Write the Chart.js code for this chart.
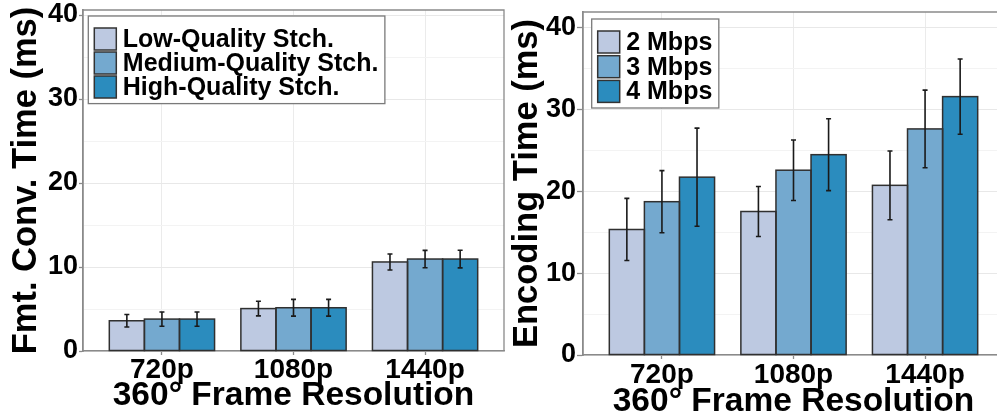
<!DOCTYPE html>
<html>
<head>
<meta charset="utf-8">
<script src="https://cdn.jsdelivr.net/npm/chart.js@4.4.0/dist/chart.umd.min.js"></script>
<style>
  html, body { margin: 0; padding: 0; background: #fff; overflow: hidden; width: 997px; height: 417px; }
  .panel { position: absolute; top: 0; width: 505px; height: 417px; }
  #left { left: 0; }
  #right { left: 500px; }
</style>
</head>
<body>
<div class="panel" id="left"><canvas id="fmtChart"></canvas></div>
<div class="panel" id="right"><canvas id="encChart"></canvas></div>
<script>
const categories = ['720p', '1080p', '1440p'];

// left panel - format conversion time (ms)
const stitchLabels = ['Low-Quality Stch.', 'Medium-Quality Stch.', 'High-Quality Stch.'];
const fmtLow = [3.6, 5.05, 10.6];
const fmtMedium = [3.8, 5.15, 10.95];
const fmtHigh = [3.8, 5.15, 10.95];
const fmtLowErr = [0.75, 0.87, 0.95];
const fmtMediumErr = [0.85, 1.0, 1.03];
const fmtHighErr = [0.85, 1.0, 1.05];

// right panel - encoding time (ms)
const bitrateLabels = ['2 Mbps', '3 Mbps', '4 Mbps'];
const enc2 = [15.35, 17.55, 20.75];
const enc3 = [18.75, 22.6, 27.65];
const enc4 = [21.75, 24.5, 31.6];
const enc2Err = [3.8, 3.05, 4.2];
const enc3Err = [3.8, 3.7, 4.75];
const enc4Err = [6.0, 4.4, 4.6];

const colours = ['#bdc9e1', '#74a9cf', '#2b8cbe'];
const FONT = "'Liberation Sans', Arial, sans-serif";
const axisGrey = '#8a8a8a';

// bar outlines centred on the bar edges (chart.js insets its borders, which leaves gaps between dodged bars)
// then mean +/- sd whiskers on top
const barOverlay = {
  id: 'barOverlay',
  afterDatasetsDraw(chart) {
    const ctx = chart.ctx;
    const y = chart.scales.y;
    ctx.save();
    ctx.strokeStyle = '#303030';
    ctx.lineWidth = 1.5;
    chart.data.datasets.forEach((ds, i) => {
      chart.getDatasetMeta(i).data.forEach(bar => {
        const { x, y: top, base, width } = bar.getProps(['x', 'y', 'base', 'width'], true);
        ctx.strokeRect(x - width / 2, top, width, base - top);
      });
    });
    ctx.strokeStyle = '#1a1a1a';
    ctx.lineWidth = 1.6;
    chart.data.datasets.forEach((ds, i) => {
      chart.getDatasetMeta(i).data.forEach((bar, j) => {
        const v = ds.data[j].y, e = ds.errors[j];
        const top = y.getPixelForValue(v + e);
        const bot = y.getPixelForValue(v - e);
        ctx.beginPath();
        ctx.moveTo(bar.x, top); ctx.lineTo(bar.x, bot);
        ctx.moveTo(bar.x - 2.5, top); ctx.lineTo(bar.x + 2.5, top);
        ctx.moveTo(bar.x - 2.5, bot); ctx.lineTo(bar.x + 2.5, bot);
        ctx.stroke();
      });
    });
    ctx.restore();
  }
};

// top + right edges of the panel (left/bottom come from the axis borders)
const panelFrame = {
  id: 'panelFrame',
  beforeDatasetsDraw(chart) {
    const { ctx, chartArea: a } = chart;
    ctx.save();
    ctx.strokeStyle = axisGrey;
    ctx.lineWidth = 1.3;
    ctx.beginPath();
    ctx.moveTo(a.left, a.top); ctx.lineTo(a.right, a.top); ctx.lineTo(a.right, a.bottom);
    ctx.stroke();
    ctx.restore();
  }
};

// ggplot style boxed legend in the top left corner of the plot
const boxLegend = {
  id: 'boxLegend',
  afterDraw(chart, args, o) {
    const { ctx, chartArea: a } = chart;
    const sets = chart.data.datasets;
    const sw = 22;
    ctx.save();
    ctx.font = `bold ${o.size}px ${FONT}`;
    const textW = Math.max(...sets.map(d => ctx.measureText(d.label).width));
    const x = a.left + o.dx, y = a.top + o.dy;
    const w = 6 + sw + 6.5 + textW + 6.5;
    const h = 12 + o.pitch * (sets.length - 1) + sw + 5.6;
    ctx.fillStyle = '#fff';
    ctx.fillRect(x, y, w, h);
    ctx.strokeStyle = '#7a7a7a';
    ctx.lineWidth = 1.3;
    ctx.strokeRect(x, y, w, h);
    sets.forEach((d, i) => {
      const ry = y + 12 + i * o.pitch;
      ctx.fillStyle = d.backgroundColor;
      ctx.fillRect(x + 6, ry, sw, sw);
      ctx.strokeStyle = '#333';
      ctx.lineWidth = 1.5;
      ctx.strokeRect(x + 6, ry, sw, sw);
      ctx.fillStyle = '#000';
      ctx.textBaseline = 'middle';
      ctx.fillText(d.label, x + 6 + sw + 6.5, ry + sw / 2 + 1);
    });
    ctx.restore();
  }
};

function makeChart(canvasId, labels, series, errors, opt) {
  const datasets = series.map((vals, i) => ({
    label: labels[i],
    data: vals.map((v, j) => ({ x: j + 1, y: v })),
    errors: errors[i],
    backgroundColor: colours[i],
    borderWidth: 0,
    inflateAmount: 0,
    categoryPercentage: 0.8,
    barPercentage: 1.0
  }));

  return new Chart(document.getElementById(canvasId), {
    type: 'bar',
    data: { datasets },
    plugins: [panelFrame, barOverlay, boxLegend],
    options: {
      responsive: true,
      maintainAspectRatio: false,
      animation: false,
      layout: { padding: { top: opt.padTop, right: 1, left: 0, bottom: 0 } },
      plugins: {
        legend: { display: false },
        tooltip: { enabled: false },
        boxLegend: { dx: opt.legendDx, dy: opt.legendDy, pitch: opt.pitch, size: 25 }
      },
      scales: {
        x: {
          type: 'linear',
          min: 0.4,
          max: 3.6,
          offset: false,
          afterBuildTicks: s => { s.ticks = categories.map((c, i) => ({ value: i + 1 })); },
          afterFit: s => { s.height = opt.xHeight; s.paddingLeft = 0; s.paddingRight = 0; },
          grid: { offset: false, color: '#ebebeb', tickColor: axisGrey, tickLength: 4, tickWidth: 1.3 },
          border: { color: axisGrey, width: 1.5 },
          ticks: {
            padding: opt.xTickPad,
            color: '#000',
            font: { family: FONT, size: 28, weight: 'bold' },
            callback: v => categories[v - 1]
          },
          title: {
            display: true,
            text: '360° Frame Resolution',
            color: '#000',
            font: { family: FONT, size: 33.5, weight: 'bold', lineHeight: 1 },
            padding: { top: 0, bottom: opt.titlePad }
          }
        },
        y: {
          min: 0,
          max: opt.yMax,
          afterFit: s => { s.width = 83; s.paddingTop = 0; s.paddingBottom = 0; },
          grid: {
            color: c => c.tick.value % 10 === 0 ? '#e8e8e8' : '#f3f3f3',
            tickColor: c => c.tick.value % 10 === 0 ? axisGrey : 'rgba(0,0,0,0)',
            tickLength: opt.yTickLen,
            tickWidth: 1.3
          },
          border: { color: axisGrey, width: 1.8 },
          ticks: {
            stepSize: 5,
            includeBounds: false,
            padding: 1,
            color: '#000',
            font: { family: FONT, size: 27, weight: 'bold' },
            callback: v => v % 10 === 0 ? v : ''
          },
          title: {
            display: true,
            text: opt.yTitle,
            color: '#000',
            font: { family: FONT, size: 34.5, weight: 'bold', lineHeight: 1 },
            padding: { top: opt.yTitlePad, bottom: 0 }
          }
        }
      }
    }
  });
}

makeChart('fmtChart', stitchLabels, [fmtLow, fmtMedium, fmtHigh], [fmtLowErr, fmtMediumErr, fmtHighErr], {
  yMax: 40.6, padTop: 10, xHeight: 66, xTickPad: -2, titlePad: 4, yTickLen: 4, yTitlePad: 9,
  yTitle: 'Fmt. Conv. Time (ms)', legendDx: 5.3, legendDy: 6, pitch: 24
});

makeChart('encChart', bitrateLabels, [enc2, enc3, enc4], [enc2Err, enc3Err, enc4Err], {
  yMax: 41.95, padTop: 12, xHeight: 62, xTickPad: -1, titlePad: -1.5, yTickLen: 6, yTitlePad: 10,
  yTitle: 'Encoding Time (ms)', legendDx: 8.7, legendDy: 7, pitch: 24.7
});
</script>
</body>
</html>
